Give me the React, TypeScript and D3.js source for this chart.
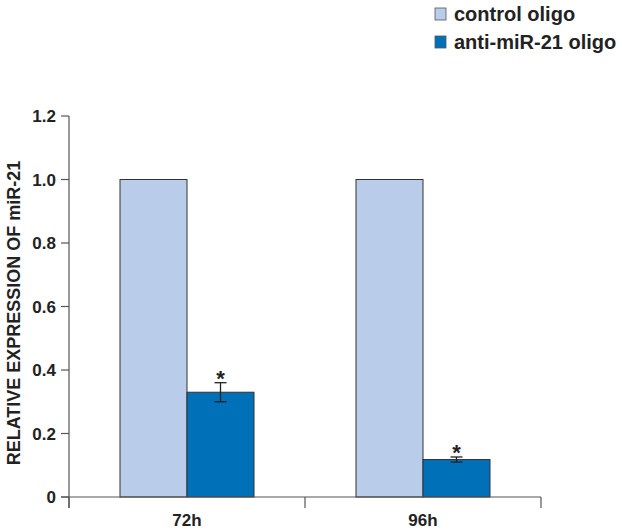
import React from "react";
import * as d3 from "d3";

const categories = ["72h", "96h"];
const series = ["control oligo", "anti-miR-21 oligo"];
const controlValues = [1.0, 1.0];
const antiValues = [0.33, 0.118];
const antiErrors = [0.03, 0.008];
const controlErrors = [0, 0];
const significant = [true, true];
const yTicks = [0, 0.2, 0.4, 0.6, 0.8, 1.0, 1.2];
const colors = ["#b9cdea", "#0070b9"];

export default function App() {
  const W = 622, H = 532;
  const x0 = 69, x1 = 541;
  const y = d3.scaleLinear().domain([0, 1.2]).range([497, 116]);
  const xBand = d3.scaleBand<string>().domain(categories).range([x0, x1]).paddingInner(0).paddingOuter(0);
  const barW = 67;
  const xSub = d3.scaleBand<string>().domain(series).range([0, barW * 2]);
  const font = "'Liberation Sans', Arial, sans-serif";
  const valuesBySeries = [controlValues, antiValues];
  const errBySeries = [controlErrors, antiErrors];
  return (
    <svg width={W} height={H} style={{ position: "absolute", left: 0, top: 0, background: "#fff" }} fontFamily={font}>
      {/* legend */}
      {series.map((s, i) => (
        <g key={s} transform={`translate(435, ${8 + i * 28})`}>
          <rect x={0} y={0} width={11} height={12} fill={colors[i]} stroke="#555" strokeWidth={0.8} />
          <text x={19} y={13} fontSize={20} fontWeight="bold" fill="#222">{s}</text>
        </g>
      ))}
      {/* bars */}
      {categories.map((c, ci) => {
        const cx = (xBand(c) as number) + xBand.bandwidth() / 2;
        const gx = cx - barW;
        return (
          <g key={c}>
            {series.map((s, si) => {
              const v = valuesBySeries[si][ci];
              const bx = gx + (xSub(s) as number);
              const e = errBySeries[si][ci];
              const mid = bx + barW / 2;
              return (
                <g key={s}>
                  <rect x={bx} y={y(v)} width={barW} height={y(0) - y(v)} fill={colors[si]} stroke="#333" strokeWidth={1} />
                  {e > 0 && (
                    <g stroke="#222" strokeWidth={1.3}>
                      <line x1={mid} x2={mid} y1={y(v + e)} y2={y(v - e)} />
                      <line x1={mid - 6} x2={mid + 6} y1={y(v + e)} y2={y(v + e)} />
                      <line x1={mid - 6} x2={mid + 6} y1={y(v - e)} y2={y(v - e)} />
                    </g>
                  )}
                  {si === 1 && significant[ci] && (
                    <text x={mid} y={y(v + e) + 3} textAnchor="middle" fontSize={22} fontWeight="bold" fill="#222">*</text>
                  )}
                </g>
              );
            })}
            <text x={cx} y={526} textAnchor="middle" fontSize={17} fontWeight="bold" fill="#222">{c}</text>
          </g>
        );
      })}
      {/* y axis */}
      <line x1={x0} x2={x0} y1={y(1.2)} y2={508} stroke="#555" strokeWidth={1.2} />
      {yTicks.map((t) => (
        <g key={t}>
          <line x1={x0 - 8} x2={x0} y1={y(t)} y2={y(t)} stroke="#555" strokeWidth={1.2} />
          <text x={56} y={y(t) + 6} textAnchor="end" fontSize={17} fontWeight="bold" fill="#222">
            {t === 0 ? "0" : d3.format(".1f")(t)}
          </text>
        </g>
      ))}
      {/* x axis */}
      <line x1={x0 - 8} x2={x1} y1={y(0)} y2={y(0)} stroke="#555" strokeWidth={1.2} />
      {[x0, ...categories.map((c) => (xBand(c) as number) + xBand.bandwidth())].map((tx, i) => (
        <line key={i} x1={tx} x2={tx} y1={y(0)} y2={508} stroke="#555" strokeWidth={1.2} />
      ))}
      <text transform={`translate(20, ${313}) rotate(-90)`} textAnchor="middle" fontSize={18} fontWeight="bold" fill="#222">
        RELATIVE EXPRESSION OF miR-21
      </text>
    </svg>
  );
}
